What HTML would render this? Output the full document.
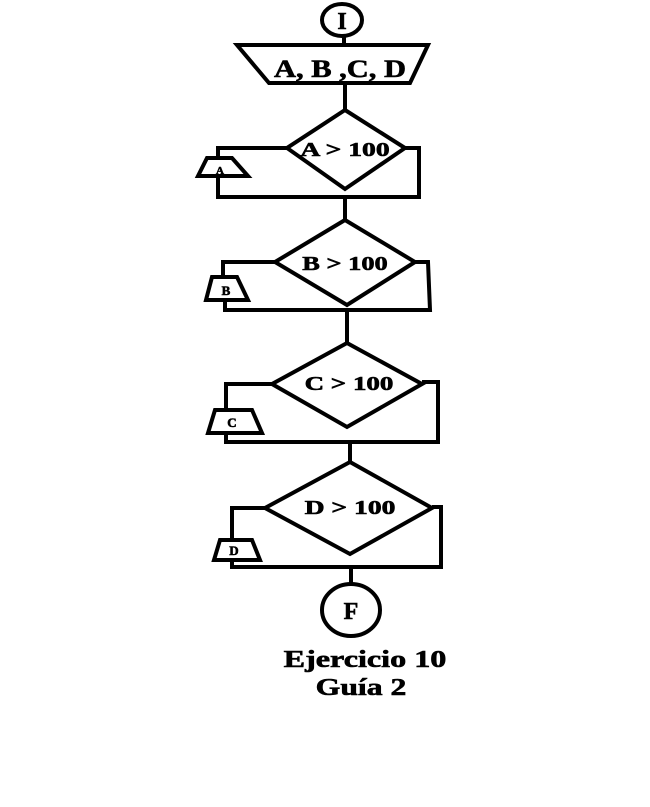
<!DOCTYPE html>
<html><head><meta charset="utf-8"><style>
html,body{margin:0;padding:0;background:#fff;width:650px;height:807px;overflow:hidden}
svg{display:block}
text{font-family:"Liberation Serif",serif;font-weight:bold;fill:#000;stroke:#000;stroke-width:0.6}
</style></head><body>
<svg width="650" height="807" viewBox="0 0 650 807" xmlns="http://www.w3.org/2000/svg">
<g fill="none" stroke="#000" stroke-width="4" stroke-linejoin="miter">
<ellipse cx="342" cy="20" rx="20" ry="16"/>
<line x1="344" y1="36" x2="344" y2="45"/>
<polygon points="237,45 428,45 410,83 269,83"/>
<line x1="345" y1="83" x2="345" y2="110"/>
<polygon points="345,110 405,148 345,189 287,148"/>
<polyline points="287,148 218,148 218,158"/>
<polygon points="207,158 232,158 248,176 198,176"/>
<polyline points="218,176 218,197 419,197 419,148 405,148"/>
<line x1="345" y1="197" x2="345" y2="220"/>
<polygon points="345,220 415,262 347,305 275,262"/>
<polyline points="275,262 223,262 223,277"/>
<polygon points="212,277 237,277 248,300 206,300"/>
<polyline points="225,300 225,310 430,310 428,262 415,262"/>
<line x1="347" y1="310" x2="347" y2="343"/>
<polygon points="347,343 422,384 347,427 272,384"/>
<polyline points="272,384 226,384 226,410"/>
<polygon points="215,410 252,410 262,433 208,433"/>
<polyline points="226,433 226,442 438,442 438,382 422,382"/>
<line x1="350" y1="442" x2="350" y2="462"/>
<polygon points="350,462 432,508 350,554 265,508"/>
<polyline points="265,508 232,508 232,540"/>
<polygon points="220,540 252,540 260,560 214,560"/>
<polyline points="232,560 232,567 443,567"/>
<polyline points="441,567 441,507 432,507"/>
<line x1="351" y1="567" x2="351" y2="584"/>
<ellipse cx="351" cy="610" rx="29" ry="26"/>
</g>
<text x="342" y="29" font-size="24" text-anchor="middle">I</text>
<text transform="translate(340,77) scale(1.22,1)" font-size="25" text-anchor="middle">A, B ,C, D</text>
<text transform="translate(345,156) scale(1.38,1)" font-size="20" text-anchor="middle">A &gt; 100</text>
<text x="220" y="174" font-size="11" text-anchor="middle">A</text>
<text transform="translate(345,270) scale(1.32,1)" font-size="20" text-anchor="middle">B &gt; 100</text>
<text x="226" y="295" font-size="13" text-anchor="middle">B</text>
<text transform="translate(349,390) scale(1.35,1)" font-size="20" text-anchor="middle">C &gt; 100</text>
<text x="232" y="427" font-size="13" text-anchor="middle">C</text>
<text transform="translate(350,514) scale(1.38,1)" font-size="20" text-anchor="middle">D &gt; 100</text>
<text x="234" y="555" font-size="13" text-anchor="middle">D</text>
<text x="351" y="619" font-size="24" text-anchor="middle">F</text>
<text transform="translate(365,667) scale(1.34,1)" font-size="24" text-anchor="middle">Ejercicio 10</text>
<text transform="translate(361,695) scale(1.32,1)" font-size="24" text-anchor="middle">Guía 2</text>
</svg>
</body></html>
